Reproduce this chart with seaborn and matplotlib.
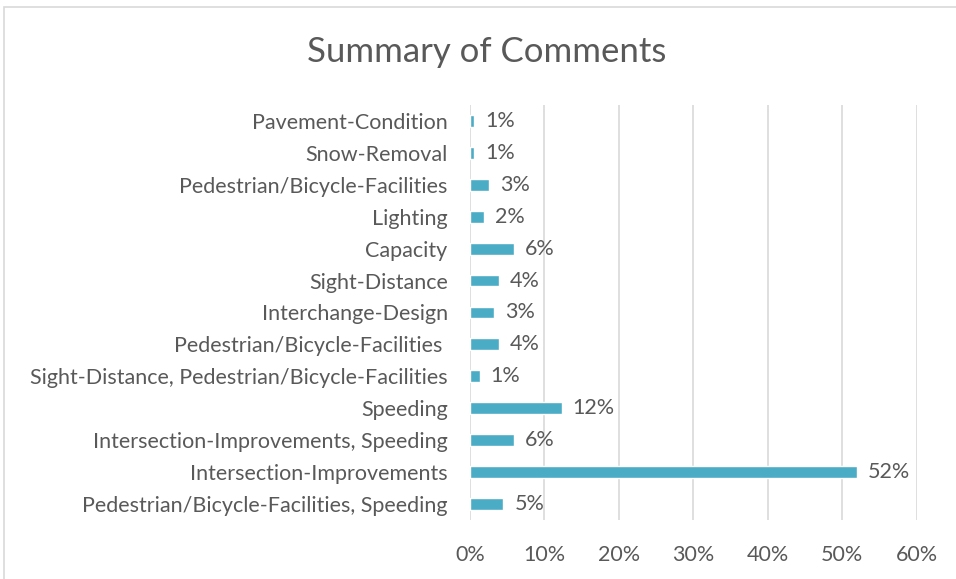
import pandas as pd
import matplotlib.pyplot as plt
import matplotlib.patches as mpatches
from matplotlib.ticker import FuncFormatter
import seaborn as sns

# data (share of comments, percent)
categories = [
    "Pavement-Condition",
    "Snow-Removal",
    "Pedestrian/Bicycle-Facilities",
    "Lighting",
    "Capacity",
    "Sight-Distance",
    "Interchange-Design",
    "Pedestrian/Bicycle-Facilities ",
    "Sight-Distance, Pedestrian/Bicycle-Facilities",
    "Speeding",
    "Intersection-Improvements, Speeding",
    "Intersection-Improvements",
    "Pedestrian/Bicycle-Facilities, Speeding",
]
shares = [0.6, 0.6, 2.6, 1.9, 5.9, 3.9, 3.2, 3.9, 1.3, 12.3, 5.9, 52.0, 4.5]
share_labels = ["1%", "1%", "3%", "2%", "6%", "4%", "3%", "4%", "1%", "12%", "6%", "52%", "5%"]
x_ticks = [0, 10, 20, 30, 40, 50, 60]

df = pd.DataFrame({"Category": categories, "Share": shares})

sns.set_theme(style="white")
plt.rcParams["font.family"] = ["Lato", "DejaVu Sans"]
text_col = "#595959"
grid_col = "#D9D9D9"

fig = plt.figure(figsize=(9.56, 5.79), dpi=100)
ax = fig.add_axes([0.4916, 0.102, 0.4673, 0.7167])

sns.barplot(data=df, x="Share", y="Category", orient="h", color="#4BACC6",
            saturation=1, width=0.37, ax=ax)

ax.bar_label(ax.containers[0], labels=share_labels, padding=8,
             fontsize=15.5, color=text_col)

ax.set_xlim(0, 60)
ax.set_ylim(12.5, -0.5)
ax.set_xticks(x_ticks)
ax.xaxis.set_major_formatter(FuncFormatter(lambda v, p: f"{v:.0f}%"))
ax.grid(axis="x", color=grid_col, linewidth=1.2)
ax.set_axisbelow(True)
for s in ax.spines.values():
    s.set_visible(False)
ax.tick_params(axis="both", length=0, labelsize=15.5, colors=text_col)
ax.tick_params(axis="x", pad=18)
ax.tick_params(axis="y", pad=16)
ax.set_xlabel("")
ax.set_ylabel("")

fig.text(0.509, 0.91, "Summary of Comments", ha="center", va="center",
         fontsize=25, color=text_col)

# light chart border (Excel chart area)
fig.patches.append(mpatches.Rectangle((4 / 956, -0.1), 1.2, 1.1 - 7 / 579,
                                      transform=fig.transFigure, fill=False,
                                      edgecolor=grid_col, linewidth=1.2))

fig.savefig("out.png", dpi=100)
